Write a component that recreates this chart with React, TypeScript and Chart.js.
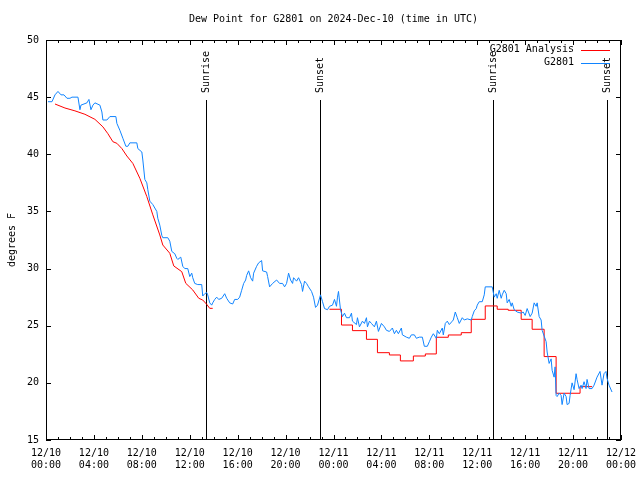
import React, { useEffect, useRef } from 'react';
import { Chart, registerables } from 'chart.js';

Chart.register(...registerables);

// ---- text ----
const TITLE = 'Dew Point for G2801 on 2024-Dec-10 (time in UTC)';
const Y_TITLE = 'degrees F';
const OBS_LABEL = 'G2801';
const ANA_LABEL = 'G2801 Analysis';
const FONT = '"DejaVu Sans Mono", "Liberation Mono", monospace';

// ---- axes (x in minutes since 12/10 00:00 UTC) ----
const START_MONTH = 12;
const START_DAY = 10;
const X_MIN = 0;
const X_MAX = 2880;
const X_MAJOR = 240;
const X_MINOR = 60;
const Y_MIN = 15;
const Y_MAX = 50;
const Y_STEP = 5;

// ---- sunrise / sunset (minutes) ----
const sunMinutes = [803, 1374, 2240, 2811];
const sunLabels = ['Sunrise', 'Sunset', 'Sunrise', 'Sunset'];

// ---- observations: [minute, dew point F] ----
const obsSeries: [number, number][] = [
  [10,44.6],[30,44.6],[45,45.2],[60,45.5],[75,45.2],[90,45.2],[105,44.9],[120,44.9],[130,45.0],[160,45.0],
  [170,43.9],[175,44.3],[205,44.5],[215,44.8],[225,43.9],[235,44.3],[245,44.5],[270,44.3],[280,43.7],[285,43.0],
  [305,43.0],[320,43.3],[350,43.3],[355,42.7],[370,42.1],[385,41.4],[400,40.7],[410,40.7],[420,41.0],[455,41.0],
  [460,40.5],[480,40.2],[485,39.5],[495,37.8],[505,37.5],[510,36.9],[520,35.9],[535,35.6],[555,35.0],[560,34.4],
  [570,33.8],[580,32.9],[585,32.7],[610,32.7],[620,32.4],[630,31.5],[645,31.3],[655,30.9],[660,30.8],[675,31.0],
  [685,30.2],[695,30.0],[710,30.0],[720,29.3],[730,29.6],[735,29.2],[745,28.7],[760,28.6],[780,28.6],[785,27.6],
  [795,27.8],[805,27.9],[810,27.7],[820,27.0],[830,26.8],[835,27.0],[845,27.3],[855,27.5],[865,27.3],[880,27.4],
  [895,27.8],[905,27.4],[920,27.0],[935,26.9],[945,27.3],[960,27.3],[970,27.5],[980,28.1],[990,28.7],[1000,29.0],
  [1005,29.4],[1015,29.8],[1025,29.2],[1035,28.9],[1040,29.6],[1055,30.2],[1065,30.5],[1080,30.7],[1085,29.8],[1105,29.7],
  [1110,29.3],[1120,28.4],[1135,28.7],[1155,29.0],[1170,28.7],[1185,28.7],[1195,28.4],[1205,28.7],[1215,29.6],[1225,29.0],
  [1235,28.7],[1240,29.2],[1255,28.9],[1265,29.2],[1280,28.6],[1285,28.0],[1295,28.9],[1305,28.7],[1315,28.4],[1330,28.0],
  [1340,27.5],[1350,26.6],[1360,26.8],[1375,27.7],[1385,27.1],[1395,26.5],[1410,26.4],[1420,26.7],[1435,26.8],[1445,27.3],
  [1455,26.7],[1460,27.5],[1465,28.0],[1475,26.4],[1485,25.8],[1495,26.1],[1505,25.7],[1520,25.7],[1530,26.1],[1535,25.4],
  [1555,25.1],[1560,25.7],[1570,24.9],[1585,25.4],[1595,25.2],[1605,25.7],[1610,24.9],[1620,25.4],[1630,25.2],[1645,24.9],
  [1655,25.4],[1665,24.5],[1680,25.2],[1695,24.9],[1705,24.6],[1720,24.5],[1735,24.8],[1745,24.3],[1755,24.6],[1765,24.3],
  [1780,24.8],[1785,24.2],[1805,24.0],[1820,23.9],[1830,24.2],[1845,24.2],[1855,23.9],[1870,24.0],[1885,24.0],[1895,23.2],
  [1910,23.2],[1920,23.6],[1930,24.0],[1940,24.3],[1955,23.9],[1960,24.6],[1970,24.3],[1985,24.8],[1990,24.2],[2000,25.2],
  [2010,25.4],[2020,25.1],[2035,25.4],[2040,25.5],[2050,26.2],[2060,25.7],[2070,25.2],[2085,25.7],[2095,25.5],[2110,25.6],
  [2130,25.5],[2135,25.8],[2145,26.3],[2155,26.5],[2160,26.8],[2170,27.1],[2185,27.1],[2195,27.7],[2200,28.4],[2235,28.4],
  [2245,27.5],[2255,27.8],[2260,27.4],[2270,28.1],[2280,27.4],[2285,27.7],[2295,28.1],[2305,27.8],[2310,27.0],[2320,27.3],
  [2330,26.7],[2335,27.0],[2345,26.4],[2360,26.2],[2380,26.1],[2390,26.2],[2400,25.9],[2410,26.5],[2425,25.8],[2435,26.1],
  [2445,27.0],[2455,26.7],[2460,27.0],[2470,25.8],[2480,25.5],[2485,24.6],[2495,24.1],[2505,23.6],[2510,22.7],[2520,21.7],
  [2530,22.1],[2535,21.1],[2545,20.5],[2550,21.4],[2555,18.9],[2560,18.8],[2570,19.1],[2580,18.9],[2585,18.1],[2595,19.1],
  [2605,18.8],[2610,18.1],[2620,18.2],[2625,18.9],[2635,20.0],[2645,19.4],[2655,20.8],[2660,20.3],[2670,19.5],[2680,19.8],
  [2685,19.5],[2695,20.1],[2705,19.5],[2710,20.3],[2720,19.5],[2735,19.5],[2745,19.8],[2760,20.5],[2775,21.0],[2785,19.8],
  [2795,20.8],[2805,21.0],[2810,20.4],[2820,19.8],[2835,19.2],
];

// ---- analysis, day 1 (fine resolution) ----
const anaEarlySeries: [number, number][] = [
  [45,44.4],[95,44.05],[145,43.8],[195,43.5],[245,43.06],[285,42.4],[310,41.8],[335,41.1],[355,40.96],[380,40.5],
  [405,39.85],[435,39.2],[470,37.9],[505,36.3],[535,34.7],[570,32.94],[585,32.06],[620,31.34],[640,30.23],[680,29.73],
  [700,28.71],[735,28.13],[765,27.4],[785,27.25],[805,26.87],[820,26.52],[835,26.52],
];

// ---- analysis, day 2 (hourly, held until next value) ----
const anaLateSeries: [number, number][] = [
  [1420,26.44],[1480,25.06],[1535,24.57],[1605,23.81],[1660,22.64],[1720,22.44],[1775,21.92],[1840,22.35],[1900,22.53],
  [1955,23.99],[2015,24.19],[2080,24.39],[2130,25.56],[2200,26.73],[2260,26.44],[2315,26.35],[2380,25.56],[2435,24.69],
  [2495,22.3],[2555,19.09],[2675,19.67],[2735,19.67],
];

const OBS_COLOR = '#1084ff';
const ANA_COLOR = '#ff0000';

const pad2 = (n: number) => (n < 10 ? '0' + n : '' + n);

const decor = {
  id: 'gnuplotDecor',
  beforeDatasetsDraw(chart: any) {
    const { ctx, chartArea, scales } = chart;
    const x = scales.x;
    ctx.save();
    ctx.strokeStyle = '#000';
    ctx.lineWidth = 1;
    ctx.fillStyle = '#000';
    ctx.font = '10px ' + FONT;
    sunMinutes.forEach((m, i) => {
      const px = Math.round(x.getPixelForValue(m)) + 0.5;
      ctx.beginPath();
      ctx.moveTo(px, chartArea.top + 60);
      ctx.lineTo(px, chartArea.bottom);
      ctx.stroke();
      ctx.save();
      ctx.translate(px, chartArea.top + 53);
      ctx.rotate(-Math.PI / 2);
      ctx.textAlign = 'left';
      ctx.textBaseline = 'middle';
      ctx.fillText(sunLabels[i], 0, 0);
      ctx.restore();
    });
    ctx.restore();
  },
  afterDraw(chart: any) {
    const { ctx, chartArea, scales } = chart;
    const { left, right, top, bottom } = chartArea;
    const x = scales.x;
    const y = scales.y;
    ctx.save();
    ctx.strokeStyle = '#000';
    ctx.lineWidth = 1;
    // frame
    ctx.strokeRect(Math.round(left) + 0.5, Math.round(top) + 0.5, Math.round(right - left) - 1, Math.round(bottom - top) - 1);
    // x ticks (bottom and top, mirrored)
    ctx.beginPath();
    for (let m = X_MIN; m <= X_MAX; m += X_MINOR) {
      const len = m % X_MAJOR === 0 ? 5 : 3;
      const px = Math.round(x.getPixelForValue(m)) + 0.5;
      ctx.moveTo(px, bottom);
      ctx.lineTo(px, bottom - len);
      ctx.moveTo(px, top);
      ctx.lineTo(px, top + len);
    }
    // y ticks (left and right, mirrored)
    for (let v = Y_MIN; v <= Y_MAX; v += Y_STEP) {
      const py = Math.round(y.getPixelForValue(v)) + 0.5;
      ctx.moveTo(left, py);
      ctx.lineTo(left + 5, py);
      ctx.moveTo(right, py);
      ctx.lineTo(right - 5, py);
    }
    ctx.stroke();
    // title
    ctx.fillStyle = '#000';
    ctx.font = '10px ' + FONT;
    ctx.textAlign = 'center';
    ctx.textBaseline = 'middle';
    ctx.fillText(TITLE, (left + right) / 2, top - 21);
    // legend
    const rows: [string, string][] = [[ANA_LABEL, ANA_COLOR], [OBS_LABEL, OBS_COLOR]];
    rows.forEach(([label, color], i) => {
      const ly = top + 9.5 + i * 13;
      ctx.fillStyle = '#000';
      ctx.textAlign = 'right';
      ctx.fillText(label, right - 47, ly);
      ctx.strokeStyle = color;
      ctx.beginPath();
      ctx.moveTo(right - 40, Math.round(ly) + 0.5);
      ctx.lineTo(right - 11, Math.round(ly) + 0.5);
      ctx.stroke();
    });
    ctx.restore();
  },
};

export default function App() {
  const ref = useRef<HTMLCanvasElement | null>(null);
  useEffect(() => {
    if (!ref.current) return;
    const toPts = (s: [number, number][]) => s.map(([m, v]) => ({ x: m, y: v }));
    const chart = new Chart(ref.current, {
      type: 'line',
      data: {
        datasets: [
          {
            label: OBS_LABEL,
            data: toPts(obsSeries),
            borderColor: OBS_COLOR,
            borderWidth: 1,
            pointRadius: 0,
            tension: 0,
            fill: false,
          },
          {
            label: ANA_LABEL,
            data: toPts(anaEarlySeries),
            borderColor: ANA_COLOR,
            borderWidth: 1,
            pointRadius: 0,
            tension: 0,
            fill: false,
          },
          {
            label: ANA_LABEL,
            data: toPts(anaLateSeries),
            borderColor: ANA_COLOR,
            borderWidth: 1,
            pointRadius: 0,
            stepped: 'before',
            fill: false,
          },
        ],
      },
      options: {
        responsive: false,
        animation: false,
        events: [],
        layout: { padding: { top: 40, right: 19, left: 0, bottom: 0 } },
        plugins: {
          legend: { display: false },
          title: { display: false },
          tooltip: { enabled: false },
        },
        scales: {
          x: {
            type: 'linear',
            min: X_MIN,
            max: X_MAX,
            grid: { display: false, drawTicks: false },
            border: { display: false },
            afterFit: (s: any) => {
              s.height = 40;
              s.paddingLeft = 0;
              s.paddingRight = 0;
            },
            ticks: {
              stepSize: X_MAJOR,
              autoSkip: false,
              maxRotation: 0,
              minRotation: 0,
              padding: 7,
              color: '#000',
              font: { family: FONT, size: 10 },
              callback: (v: any) => {
                const m = Number(v);
                const day = START_DAY + Math.floor(m / 1440);
                const hh = Math.floor((m % 1440) / 60);
                return [START_MONTH + '/' + pad2(day), pad2(hh) + ':00'];
              },
            },
          },
          y: {
            min: Y_MIN,
            max: Y_MAX,
            grid: { display: false, drawTicks: false },
            border: { display: false },
            afterFit: (s: any) => {
              s.width = 46;
              s.paddingTop = 0;
              s.paddingBottom = 0;
            },
            title: {
              display: true,
              text: Y_TITLE,
              color: '#000',
              font: { family: FONT, size: 10 },
              padding: { top: 6, bottom: 0 },
            },
            ticks: {
              stepSize: Y_STEP,
              padding: 7,
              color: '#000',
              font: { family: FONT, size: 10 },
            },
          },
        },
      },
      plugins: [decor],
    });
    return () => chart.destroy();
  }, []);
  return (
    <div style={{ position: 'absolute', left: 0, top: 0, width: 640, height: 480, background: '#fff' }}>
      <canvas ref={ref} width={640} height={480} style={{ display: 'block' }} />
    </div>
  );
}
